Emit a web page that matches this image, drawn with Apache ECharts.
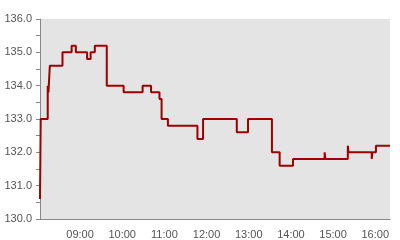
<!DOCTYPE html>
<html><head><meta charset="utf-8">
<script src="https://cdn.jsdelivr.net/npm/echarts@6/dist/echarts.min.js"></script>
<style>html,body{margin:0;padding:0;background:#fff}#c{width:400px;height:240px}</style>
</head><body><div id="c"></div>
<script>
const times = ['08:03','08:04','08:14','08:15','08:17','08:35','08:48','08:54','09:10','09:15','09:21','09:38','10:02','10:29','10:41','10:53','10:56','11:05','11:47','11:55','12:43','12:59','13:33','13:44','14:03','14:48','14:49','15:21','15:22','15:55','15:56','16:01','16:21'];
const values = [130.6,133.0,134.0,133.8,134.6,135.0,135.2,135.0,134.8,135.0,135.2,134.0,133.8,134.0,133.8,133.6,133.0,132.8,132.4,133.0,132.6,133.0,132.0,131.6,131.8,132.0,131.8,132.2,132.0,131.8,132.0,132.2,132.2];
const hourTicks = ['09:00','10:00','11:00','12:00','13:00','14:00','15:00','16:00'];
const xStart = '08:03', xEnd = '16:21';
const yMin = 130, yMax = 136;

const toMin = s => { const [h,m] = s.split(':').map(Number); return h*60+m; };
const fmt = v => { const h = Math.floor(v/60), m = Math.round(v%60); return String(h).padStart(2,'0')+':'+String(m).padStart(2,'0'); };
const data = times.map((t,i)=>[toMin(t), values[i]]);

const chart = echarts.init(document.getElementById('c'), null, {renderer:'canvas'});
chart.setOption({
  animation:false,
  grid:{left:40,right:10,top:19,bottom:21,show:true,backgroundColor:'#e4e4e4',borderWidth:0},
  xAxis:{type:'value',min:toMin(xStart),max:toMin(xEnd),
    axisLine:{show:true,lineStyle:{color:'#888',width:1}},
    axisTick:{show:false},
    splitLine:{show:false},
    axisLabel:{customValues:hourTicks.map(toMin),formatter:v=>fmt(v),color:'#555',fontSize:11,fontFamily:'Liberation Sans',margin:10}
  },
  yAxis:{type:'value',min:yMin,max:yMax,interval:1,
    axisLine:{show:true,lineStyle:{color:'#888',width:1}},
    axisTick:{show:true,length:4,lineStyle:{color:'#888'}},
    minorTick:{show:true,splitNumber:2,length:4,lineStyle:{color:'#888'}},
    splitLine:{show:false},
    axisLabel:{formatter:v=>v.toFixed(1),color:'#555',fontSize:11,fontFamily:'Liberation Sans',margin:8}
  },
  series:[{type:'line',step:'end',data:data,showSymbol:false,
    lineStyle:{color:'#9c0000',width:2}}]
});
</script></body></html>
